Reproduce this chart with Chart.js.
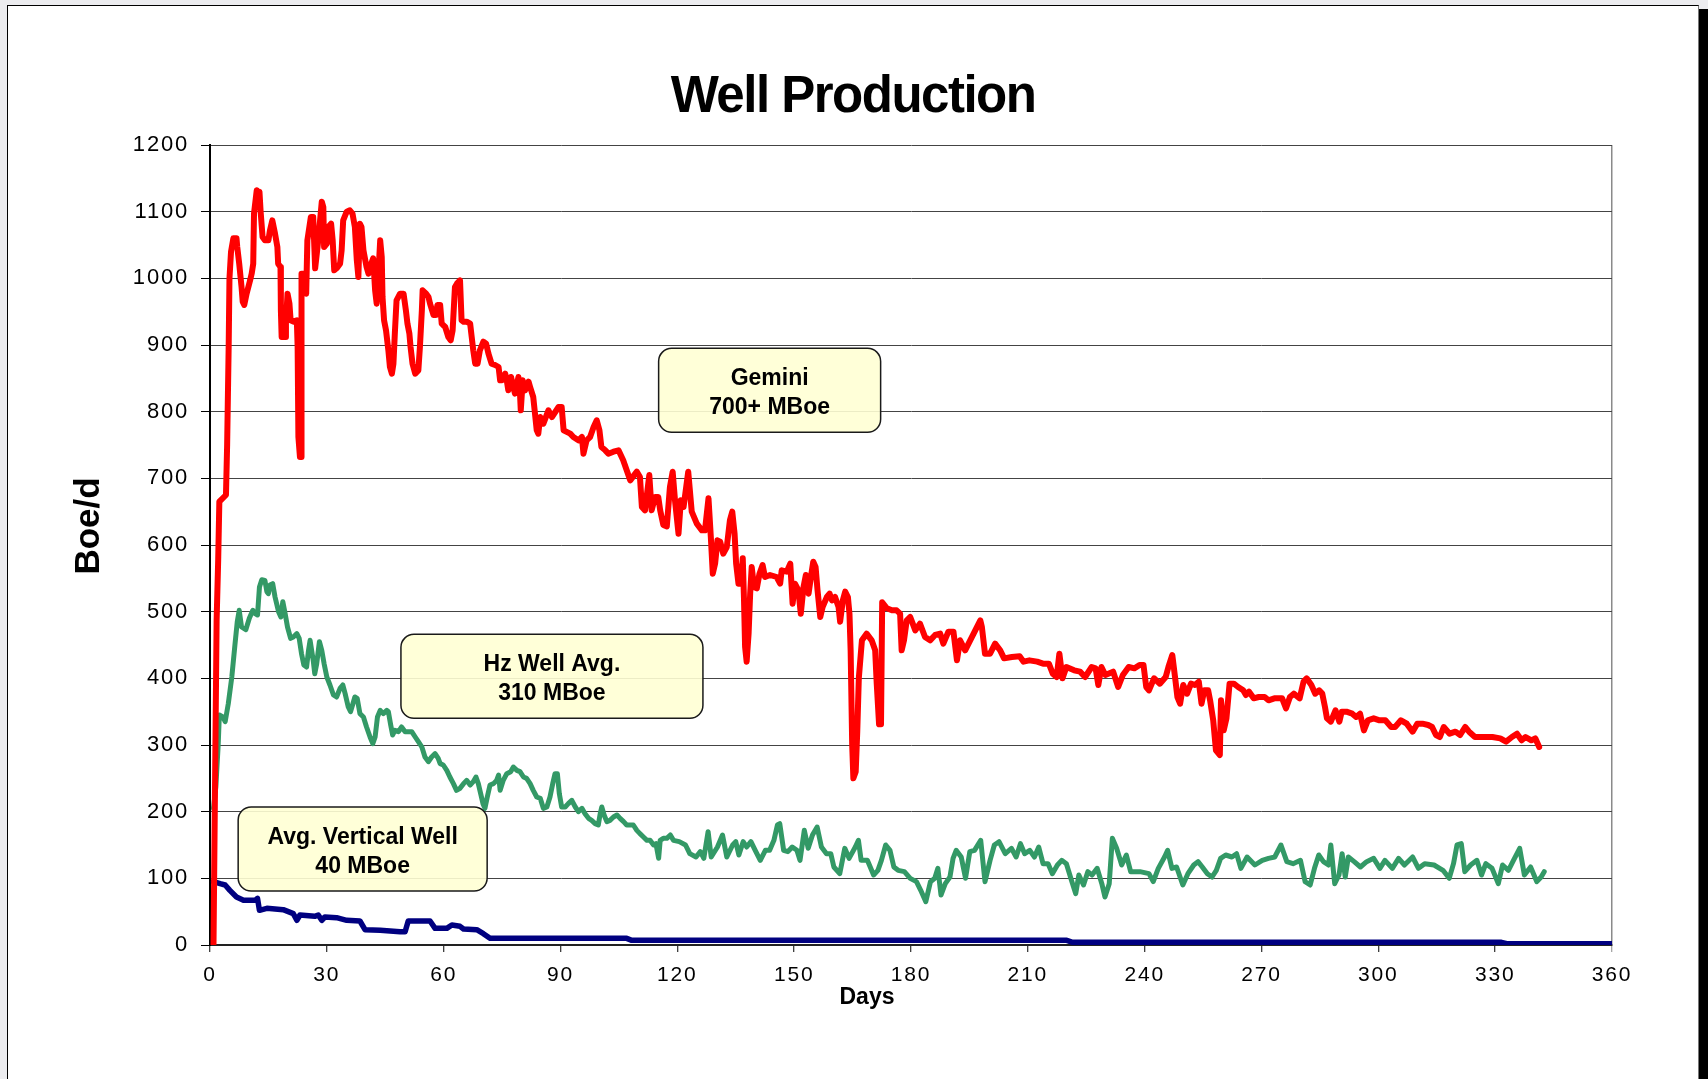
<!DOCTYPE html>
<html>
<head>
<meta charset="utf-8">
<title>Well Production</title>
<script src="https://cdn.jsdelivr.net/npm/chart.js@4.4.1/dist/chart.umd.min.js"></script>
<style>
  html, body { margin: 0; padding: 0; background: #ececef; overflow: hidden; }
  .frame {
    position: absolute; left: 7px; top: 5px; width: 1690px; height: 1100px;
    background: #fff; border: 1px solid #000; border-right-color: #777;
    box-shadow: 9px 4px 0 #000;
  }
  #wellChart { position: absolute; left: 0; top: 0; }
</style>
</head>
<body>
<div class="frame"></div>
<canvas id="wellChart" width="1708" height="1079"></canvas>
<script>
// Values: days on the x axis, Boe/d on the y axis
const geminiDays = [0.9, 1.7, 2.1, 2.4, 4.1, 4.4, 4.8, 5.0, 5.4, 6.0, 6.8, 7.0, 7.5, 8.1, 8.4, 8.8, 9.4, 10.3, 10.7, 11.1,
  11.3, 12.0, 12.4, 12.7, 13.0, 13.5, 14.1, 15.0, 15.4, 16.0, 16.7, 17.3, 17.5, 18.1, 18.2, 18.4, 19.3, 19.5, 19.9, 20.4,
  20.7, 21.4, 22.3, 22.5, 22.7, 23.1, 23.4, 23.5, 24.1, 24.7, 25.0, 25.9, 26.5, 27.0, 27.8, 28.7, 29.1, 29.3, 30.0, 30.4,
  31.1, 31.5, 31.9, 32.5, 33.4, 33.8, 34.2, 35.1, 35.9, 36.6, 37.2, 37.7, 38.1, 38.5, 38.9, 39.4, 40.2, 40.7, 41.1, 41.9,
  42.4, 42.8, 43.2, 43.7, 44.1, 44.3, 44.7, 45.2, 45.8, 46.2, 46.7, 47.1, 47.5, 47.9, 48.8, 49.7, 50.3, 50.7, 51.2, 51.5,
  52.0, 52.7, 53.5, 53.9, 54.4, 54.6, 55.5, 56.1, 56.5, 57.4, 58.0, 58.4, 59.1, 59.5, 60.4, 61.2, 61.8, 62.3, 62.9, 63.4,
  64.2, 64.6, 65.1, 65.9, 66.8, 67.2, 67.6, 68.1, 68.7, 69.3, 70.2, 70.9, 71.5, 72.3, 73.2, 74.1, 74.5, 74.9, 75.8, 76.2,
  76.6, 77.3, 78.3, 79.2, 79.6, 79.8, 80.3, 80.9, 81.8, 82.2, 83.0, 83.9, 84.3, 84.8, 85.6, 86.9, 87.8, 89.5, 90.3, 90.8,
  92.5, 93.3, 94.6, 95.5, 95.9, 96.7, 97.6, 98.5, 99.3, 100.0, 100.5, 101.5, 102.3, 103.6, 104.9, 106.1, 107.9, 109.6, 110.4, 110.9,
  111.7, 112.8, 113.4, 114.3, 115.1, 115.6, 116.4, 117.3, 118.1, 118.8, 119.4, 120.3, 120.9, 121.6, 122.8, 123.7, 125.0, 126.3, 127.1, 128.0,
  128.6, 129.1, 129.7, 130.3, 131.0, 131.8, 132.7, 133.5, 134.1, 134.7, 135.1, 135.7, 136.3, 136.8, 137.1, 137.4, 137.8, 138.3, 138.7, 139.1,
  139.7, 140.4, 141.1, 141.9, 142.5, 143.8, 145.5, 146.4, 146.8, 148.1, 149.0, 149.6, 150.2, 151.1, 151.7, 152.4, 153.0, 153.7, 154.3, 154.9,
  155.5, 156.0, 156.7, 157.3, 158.4, 159.1, 159.7, 160.5, 161.4, 161.8, 162.5, 163.1, 163.8, 164.2, 164.5, 164.9, 165.2, 165.8, 166.2, 166.6,
  167.4, 168.6, 169.9, 170.8, 171.2, 171.8, 172.3, 172.6, 173.8, 175.1, 176.3, 177.2, 177.6, 178.2, 178.9, 179.8, 181.1, 182.3, 183.6, 184.9,
  186.2, 187.5, 188.3, 189.6, 190.9, 191.8, 192.6, 193.9, 195.2, 196.5, 197.8, 198.2, 199.0, 200.3, 201.6, 202.9, 203.9, 205.9, 207.9, 208.9,
  210.4, 212.4, 213.9, 215.4, 216.4, 217.4, 218.1, 218.9, 219.9, 221.9, 223.4, 224.7, 226.4, 227.4, 228.1, 228.9, 229.9, 231.9, 233.2, 234.4,
  235.9, 237.4, 238.7, 239.7, 240.4, 241.1, 242.4, 243.9, 245.4, 246.1, 247.1, 247.9, 248.4, 249.1, 249.9, 250.9, 251.9, 252.9, 253.9, 254.6,
  255.3, 256.3, 256.8, 257.6, 258.3, 259.3, 259.6, 260.3, 261.0, 261.8, 262.9, 264.0, 265.3, 266.0, 266.8, 268.0, 269.3, 270.8, 271.8, 273.3,
  275.3, 276.3, 277.3, 278.3, 279.8, 280.8, 281.6, 282.8, 283.8, 284.8, 285.6, 286.3, 286.8, 287.8, 289.0, 290.0, 290.6, 291.8, 293.3, 294.3,
  295.3, 296.3, 297.3, 298.8, 300.3, 301.8, 303.3, 304.3, 305.8, 307.3, 308.8, 310.0, 311.3, 312.8, 313.8, 314.8, 315.8, 316.8, 318.3, 319.8,
  321.0, 322.3, 323.3, 324.8, 326.8, 329.3, 331.3, 332.8, 334.3, 335.6, 336.8, 337.8, 339.3, 340.3, 341.3];
const geminiBoe = [0, 487, 577, 665, 675, 750, 900, 1000, 1040, 1060, 1060, 1047, 1022, 987, 965, 960, 977, 997, 1007, 1022,
  1097, 1132, 1118, 1130, 1100, 1062, 1057, 1057, 1072, 1087, 1067, 1047, 1022, 1017, 952, 912, 912, 932, 977, 962,
  937, 935, 937, 897, 762, 732, 732, 1007, 1007, 977, 1057, 1092, 1092, 1015, 1057, 1115, 1107, 1047, 1052, 1077,
  1082, 1057, 1012, 1015, 1022, 1042, 1087, 1100, 1102, 1097, 1077, 1027, 1002, 1082, 1077, 1042, 1017, 1007, 1017, 1030,
  982, 962, 1002, 1057, 1032, 972, 937, 922, 892, 867, 857, 872, 922, 967, 977, 977, 952, 932, 917, 897,
  872, 857, 862, 897, 952, 982, 977, 972, 962, 945, 945, 960, 960, 932, 927, 912, 907, 922, 987, 992,
  997, 937, 935, 935, 932, 912, 892, 872, 872, 892, 905, 902, 887, 872, 870, 867, 847, 847, 857, 847,
  832, 852, 827, 852, 827, 802, 847, 832, 845, 837, 822, 772, 767, 792, 782, 802, 792, 807, 807, 772,
  767, 762, 757, 762, 737, 757, 762, 777, 787, 772, 747, 742, 737, 740, 742, 727, 697, 710, 702, 657,
  652, 705, 652, 672, 672, 652, 630, 628, 687, 710, 667, 617, 667, 657, 710, 650, 632, 622, 622, 670,
  612, 557, 572, 607, 605, 587, 597, 637, 650, 617, 572, 542, 542, 580, 522, 447, 425, 467, 527, 567,
  537, 535, 557, 570, 552, 555, 552, 542, 562, 560, 572, 512, 542, 532, 497, 537, 555, 527, 552, 575,
  567, 532, 492, 507, 522, 527, 517, 522, 507, 485, 517, 530, 522, 497, 442, 300, 250, 260, 320, 400,
  457, 467, 457, 442, 392, 331, 331, 514, 505, 502, 502, 497, 442, 457, 487, 492, 472, 482, 462, 457,
  465, 467, 452, 470, 470, 427, 457, 442, 457, 472, 487, 477, 437, 437, 452, 442, 430, 432, 433, 425,
  427, 425, 422, 422, 407, 402, 437, 400, 417, 412, 410, 402, 417, 415, 390, 417, 405, 410, 387, 405,
  417, 415, 420, 420, 387, 382, 400, 392, 402, 417, 435, 397, 372, 362, 390, 377, 392, 390, 395, 362,
  382, 382, 367, 337, 292, 285, 367, 322, 340, 392, 392, 387, 382, 375, 380, 370, 372, 372, 367, 370,
  370, 355, 372, 377, 370, 395, 400, 390, 377, 382, 377, 357, 340, 335, 352, 335, 350, 350, 347, 342,
  347, 322, 337, 340, 337, 337, 327, 327, 337, 332, 320, 332, 332, 330, 327, 315, 312, 327, 317, 320,
  315, 327, 320, 312, 312, 312, 310, 305, 312, 317, 307, 312, 307, 310, 297];

const hzDays = [0.9, 1.5, 2.1, 2.4, 3.3, 3.9, 4.7, 5.6, 6.4, 7.0, 7.5, 8.1, 9.2, 10.1, 11.0, 11.6, 12.2, 12.7, 13.3, 14.1,
  14.6, 15.0, 15.4, 16.1, 16.7, 17.6, 18.2, 18.7, 19.3, 19.9, 20.7, 21.4, 22.3, 22.9, 23.5, 24.1, 24.8, 25.3, 25.7, 26.1,
  26.5, 26.9, 27.4, 28.1, 28.7, 29.3, 30.0, 30.8, 31.7, 32.5, 33.4, 34.1, 34.7, 35.5, 36.1, 36.6, 37.2, 37.8, 38.5, 39.4,
  40.2, 41.1, 41.8, 42.4, 43.0, 43.7, 44.5, 45.4, 45.8, 46.4, 46.9, 47.5, 48.4, 49.2, 50.1, 50.9, 51.8, 52.7, 53.5, 54.4,
  55.2, 56.1, 56.9, 57.8, 58.6, 59.1, 59.9, 60.8, 61.6, 62.5, 63.3, 64.2, 65.1, 65.9, 66.8, 67.6, 68.3, 68.9, 69.5, 70.1,
  70.6, 71.2, 71.9, 72.8, 73.6, 74.1, 74.5, 75.3, 76.2, 77.2, 77.9, 78.8, 79.6, 80.5, 81.3, 82.2, 83.0, 83.9, 84.8, 85.6,
  86.5, 87.3, 88.0, 88.6, 89.2, 89.7, 90.3, 91.2, 92.0, 92.9, 93.8, 94.6, 95.5, 96.3, 97.2, 98.0, 98.9, 99.7, 100.2, 100.6,
  101.2, 101.9, 102.7, 103.6, 104.5, 105.3, 106.2, 107.0, 108.7, 109.6, 110.4, 111.3, 112.2, 113.0, 113.9, 114.5, 115.2, 115.6, 116.4, 117.3,
  118.2, 119.0, 120.5, 122.1, 123.2, 124.8, 125.9, 126.8, 127.9, 128.7, 130.3, 131.6, 132.7, 134.2, 135.0, 135.8, 136.9, 137.8, 138.9, 140.0,
  141.3, 142.6, 143.7, 144.8, 145.7, 146.3, 147.3, 148.4, 149.5, 150.7, 151.5, 152.6, 153.6, 154.7, 155.9, 157.0, 158.3, 159.4, 160.2, 161.7,
  163.0, 164.1, 165.7, 166.5, 167.2, 168.8, 170.4, 171.5, 172.4, 173.5, 174.6, 175.6, 176.7, 178.3, 179.8, 181.4, 182.5, 183.8, 185.0, 186.1,
  186.9, 187.7, 188.8, 190.0, 190.8, 191.6, 192.9, 194.0, 195.1, 196.3, 197.9, 199.0, 200.3, 201.4, 202.6, 204.2, 205.8, 207.0, 208.1, 209.2,
  210.5, 211.7, 212.8, 213.9, 215.2, 216.3, 217.6, 218.7, 219.9, 221.2, 222.3, 223.1, 224.3, 225.4, 226.5, 227.8, 229.0, 229.8, 230.9, 231.7,
  232.8, 234.1, 235.3, 236.4, 238.8, 241.1, 242.2, 243.5, 245.1, 245.9, 247.0, 248.2, 249.8, 251.1, 252.6, 253.7, 254.8, 256.1, 257.3, 258.4,
  259.5, 260.8, 262.4, 263.6, 264.7, 266.3, 268.3, 270.2, 271.8, 273.4, 275.0, 276.5, 278.1, 280.0, 281.2, 282.5, 283.6, 284.7, 285.9, 287.2,
  287.8, 288.8, 289.9, 290.7, 291.5, 292.3, 293.8, 295.4, 297.0, 298.8, 300.4, 301.7, 303.6, 305.2, 306.7, 308.8, 310.3, 311.9, 314.3, 316.6,
  318.2, 319.3, 320.2, 321.3, 322.2, 323.7, 325.3, 326.5, 327.6, 329.2, 330.8, 331.9, 333.4, 334.7, 336.3, 337.5, 339.1, 340.7, 341.8, 342.6];
const hzBoe = [205, 237, 300, 345, 342, 335, 362, 402, 450, 485, 502, 477, 473, 490, 502, 497, 495, 537, 548, 547,
  530, 527, 540, 542, 522, 500, 492, 515, 497, 477, 460, 462, 467, 460, 437, 420, 417, 442, 457, 442,
  427, 407, 422, 455, 442, 422, 402, 390, 375, 372, 385, 390, 377, 357, 350, 360, 372, 370, 347, 342,
  327, 312, 302, 312, 342, 352, 347, 352, 350, 330, 315, 322, 320, 327, 320, 320, 320, 312, 305, 297,
  282, 275, 282, 287, 280, 272, 270, 262, 252, 242, 232, 235, 242, 247, 240, 245, 252, 242, 227, 212,
  205, 222, 240, 242, 247, 255, 232, 247, 257, 260, 267, 262, 260, 252, 250, 242, 232, 222, 220, 205,
  207, 222, 242, 257, 257, 227, 207, 207, 212, 217, 207, 200, 205, 197, 190, 187, 182, 180, 197, 207,
  195, 185, 187, 192, 195, 190, 185, 180, 180, 172, 167, 162, 157, 157, 150, 152, 130, 157, 160, 160,
  165, 157, 155, 150, 137, 132, 140, 130, 170, 132, 147, 165, 132, 150, 155, 135, 155, 147, 155, 142,
  127, 142, 142, 157, 180, 182, 142, 140, 147, 142, 127, 172, 145, 165, 177, 147, 137, 137, 117, 107,
  145, 130, 147, 157, 127, 127, 105, 112, 127, 150, 142, 117, 112, 110, 100, 95, 82, 65, 95, 100,
  115, 75, 92, 102, 130, 142, 132, 100, 140, 142, 157, 95, 127, 150, 155, 137, 145, 132, 152, 137,
  142, 132, 147, 122, 122, 107, 120, 127, 122, 97, 77, 105, 90, 110, 105, 115, 92, 72, 92, 160,
  145, 120, 135, 110, 110, 107, 95, 115, 132, 142, 115, 117, 90, 107, 120, 125, 117, 107, 102, 112,
  130, 135, 132, 137, 115, 132, 120, 127, 130, 132, 150, 125, 122, 127, 95, 90, 115, 135, 125, 120,
  150, 92, 105, 137, 102, 132, 125, 117, 125, 130, 115, 127, 115, 130, 120, 132, 115, 122, 120, 112,
  100, 122, 150, 152, 110, 120, 127, 105, 122, 115, 92, 120, 112, 127, 145, 105, 117, 95, 102, 110];

const verticalDays = [0.9, 2.6, 3.9, 5.1, 6.8, 8.6, 11.6, 12.2, 12.7, 14.6, 18.8, 20.1, 21.4, 22.3, 23.1, 26.9, 27.8, 28.7, 29.5, 32.5,
  35.1, 38.5, 39.8, 43.7, 48.8, 50.1, 50.9, 56.5, 57.8, 60.8, 62.1, 64.2, 65.1, 68.5, 70.2, 71.9, 107.0, 108.3, 220.0, 221.5,
  331.6, 333.0, 360.0];
const verticalBoe = [95, 92, 90, 82, 72, 67, 67, 70, 52, 55, 53, 50, 47, 37, 45, 43, 45, 37, 42, 41,
  37, 36, 23, 22, 20, 20, 36, 36, 25, 25, 30, 28, 24, 23, 17, 10, 10, 7, 7, 4,
  4, 2, 2];

const dayTicks = [0, 30, 60, 90, 120, 150, 180, 210, 240, 270, 300, 330, 360];
const boeTicks = [0, 100, 200, 300, 400, 500, 600, 700, 800, 900, 1000, 1100, 1200];

const noteLabels = [['Gemini', '700+ MBoe'], ['Hz Well Avg.', '310 MBoe'], ['Avg. Vertical Well', '40 MBoe']];

const FONT = "'Liberation Sans', Arial, sans-serif";

function toPoints(days, values) {
    return days.map((d, i) => ({ x: d, y: values[i] }));
}

// Draw the rounded yellow call-out boxes, anchored in data coordinates
const notesPlugin = {
    id: 'notes',
    afterDatasetsDraw(chart) {
        const { ctx, scales: { x, y } } = chart;
        const anchors = [[143.7, 832], [87.8, 403], [39.2, 144]];
        const widths = [222, 302, 249];
        const h = 84;
        ctx.save();
        ctx.letterSpacing = '0px';
        noteLabels.forEach((lines, i) => {
            const cx = x.getPixelForValue(anchors[i][0]);
            const cy = y.getPixelForValue(anchors[i][1]);
            const w = widths[i];
            ctx.beginPath();
            ctx.roundRect(cx - w / 2, cy - h / 2, w, h, 13);
            ctx.fillStyle = 'rgba(255, 255, 212, 0.9)';
            ctx.fill();
            ctx.lineWidth = 1.5;
            ctx.strokeStyle = '#1a1a1a';
            ctx.stroke();
            ctx.fillStyle = '#000';
            ctx.font = 'bold 23px ' + FONT;
            ctx.textAlign = 'center';
            ctx.textBaseline = 'alphabetic';
            ctx.fillText(lines[0], cx, cy - 5);
            ctx.fillText(lines[1], cx, cy + 24);
        });
        ctx.restore();
    }
};

// Chart title and axis titles, placed like the original
const titlesPlugin = {
    id: 'titles',
    beforeDraw(chart) {
        chart.ctx.letterSpacing = '1.8px'; // the tick labels in the picture are wide
    },
    afterDraw(chart) {
        const { ctx, chartArea } = chart;
        ctx.save();
        ctx.fillStyle = '#000';
        ctx.textBaseline = 'alphabetic';
        ctx.textAlign = 'center';

        ctx.letterSpacing = '-1.5px';
        ctx.font = 'bold 51px ' + FONT;
        ctx.fillText('Well Production', 853, 112);

        ctx.letterSpacing = '0px';
        ctx.font = 'bold 23px ' + FONT;
        ctx.fillText('Days', 867, chartArea.bottom + 59);

        ctx.font = 'bold 35px ' + FONT;
        ctx.translate(99, 526);
        ctx.rotate(-Math.PI / 2);
        ctx.fillText('Boe/d', 0, 0);
        ctx.restore();
    }
};

const lineStyle = {
    pointRadius: 0,
    tension: 0,
    fill: false,
    borderJoinStyle: 'round',
    borderCapStyle: 'round'
};

const chartData = {
    datasets: [
        {
            label: 'Gemini',
            data: toPoints(geminiDays, geminiBoe),
            borderColor: '#ff0000',
            backgroundColor: '#ff0000',
            borderWidth: 6,
            ...lineStyle
        },
        {
            label: 'Hz Well Avg.',
            data: toPoints(hzDays, hzBoe),
            borderColor: '#339966',
            backgroundColor: '#339966',
            borderWidth: 5,
            ...lineStyle
        },
        {
            label: 'Avg. Vertical Well',
            data: toPoints(verticalDays, verticalBoe),
            borderColor: '#000080',
            backgroundColor: '#000080',
            borderWidth: 5.5,
            ...lineStyle
        }
    ]
};

const chartConfig = {
    type: 'line',
    data: chartData,
    options: {
        responsive: false,
        animation: false,
        layout: { padding: { top: 145, right: 96, left: 0, bottom: 0 } },
        plugins: {
            legend: { display: false },
            tooltip: { enabled: false },
            title: { display: false }
        },
        scales: {
            x: {
                type: 'linear',
                min: 0,
                max: 360,
                afterFit: scale => { scale.height = 134; },
                afterBuildTicks: scale => { scale.ticks = dayTicks.map(v => ({ value: v })); },
                ticks: {
                    color: '#000',
                    font: { family: FONT, size: 21 },
                    padding: 11,
                    maxRotation: 0,
                    autoSkip: false,
                    callback: v => String(v)
                },
                grid: {
                    color: c => (c.tick && c.tick.value === 360 ? '#8a8a8a' : 'rgba(0,0,0,0)'),
                    tickColor: c => (c.tick && c.tick.value === 360 ? '#8a8a8a' : '#000'),
                    lineWidth: 1.5,
                    tickWidth: 1,
                    tickLength: 7
                },
                border: { display: true, color: '#222', width: 2 }
            },
            y: {
                min: 0,
                max: 1200,
                afterFit: scale => { scale.width = 210; },
                afterBuildTicks: scale => { scale.ticks = boeTicks.map(v => ({ value: v })); },
                ticks: {
                    color: '#000',
                    font: { family: FONT, size: 22 },
                    padding: 12,
                    callback: v => String(v)
                },
                grid: {
                    color: '#444',
                    lineWidth: 1,
                    tickColor: '#000',
                    tickLength: 9
                },
                border: { display: true, color: '#000', width: 2 }
            }
        }
    },
    plugins: [notesPlugin, titlesPlugin]
};

const ctx = document.getElementById('wellChart').getContext('2d');
new Chart(ctx, chartConfig);
</script>
</body>
</html>
